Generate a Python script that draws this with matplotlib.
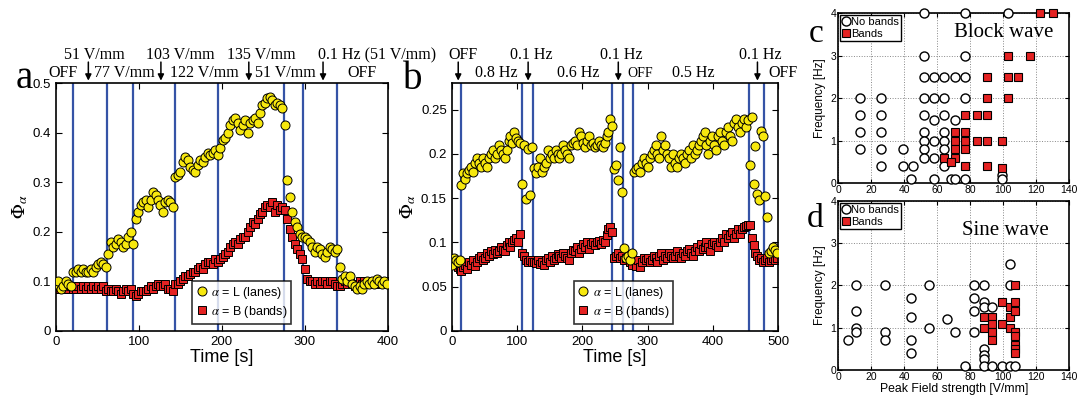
import numpy as np
import matplotlib.pyplot as plt
from matplotlib.ticker import FuncFormatter

plt.rcParams['font.family'] = ['Liberation Sans', 'DejaVu Sans']
plt.rcParams['mathtext.fontset'] = 'stix'

# ---- panel a: field strength steps, one sample every 3 s ----
lanes_a = [0.095, 0.10, 0.085, 0.09, 0.10, 0.095, 0.09,
           0.12, 0.12, 0.125, 0.12, 0.125, 0.12, 0.12, 0.125, 0.12, 0.13, 0.135, 0.14, 0.135, 0.13,
           0.155, 0.18, 0.17, 0.175, 0.185, 0.18, 0.17, 0.175, 0.19, 0.20, 0.175,
           0.225, 0.24, 0.255, 0.26, 0.265, 0.25, 0.265, 0.28, 0.275, 0.265, 0.255, 0.24, 0.26, 0.265, 0.26, 0.25,
           0.31, 0.315, 0.32, 0.34, 0.35, 0.345, 0.33, 0.325, 0.32, 0.335, 0.345, 0.34, 0.35, 0.36, 0.355, 0.36, 0.365, 0.355,
           0.37, 0.385, 0.39, 0.40, 0.415, 0.425, 0.43, 0.42, 0.405, 0.415, 0.425, 0.40, 0.42, 0.425, 0.43, 0.42,
           0.44, 0.455, 0.46, 0.47, 0.472, 0.465, 0.455, 0.46, 0.455, 0.45,
           0.415, 0.305, 0.27, 0.24, 0.22, 0.21, 0.195, 0.19,
           0.19, 0.185, 0.18, 0.17, 0.16, 0.17, 0.165, 0.155, 0.15, 0.16, 0.17, 0.165, 0.16, 0.165,
           0.13, 0.105, 0.11, 0.10, 0.11, 0.095, 0.09, 0.085, 0.09, 0.085, 0.095, 0.10, 0.095, 0.10, 0.095,
           0.105, 0.10, 0.095, 0.10, 0.095]
bands_a = [0.085, 0.09, 0.09, 0.085, 0.09, 0.085, 0.09,
           0.085, 0.085, 0.09, 0.085, 0.09, 0.085, 0.09, 0.085, 0.09, 0.085, 0.09, 0.085, 0.09, 0.08,
           0.085, 0.08, 0.08, 0.085, 0.08, 0.075, 0.08, 0.085, 0.08, 0.085, 0.075,
           0.07, 0.075, 0.08, 0.08, 0.08, 0.085, 0.09, 0.085, 0.09, 0.095, 0.09, 0.09, 0.095, 0.085, 0.085, 0.08,
           0.095, 0.095, 0.10, 0.105, 0.11, 0.11, 0.115, 0.12, 0.12, 0.125, 0.13, 0.125, 0.135, 0.14, 0.14, 0.135, 0.145, 0.14,
           0.145, 0.15, 0.155, 0.16, 0.17, 0.175, 0.18, 0.175, 0.185, 0.19, 0.19, 0.20, 0.21, 0.22, 0.215, 0.225,
           0.235, 0.24, 0.25, 0.255, 0.25, 0.26, 0.24, 0.255, 0.245, 0.25,
           0.245, 0.225, 0.205, 0.19, 0.175, 0.165, 0.155, 0.145,
           0.125, 0.105, 0.10, 0.10, 0.095, 0.10, 0.095, 0.10, 0.10, 0.095, 0.10, 0.10, 0.095, 0.09,
           0.09, 0.095, 0.10, 0.095, 0.10, 0.095, 0.09, 0.095, 0.10, 0.095, 0.10, 0.095, 0.10, 0.095, 0.10,
           0.095, 0.10, 0.095, 0.095, 0.10]
switch_a = [20, 61, 93, 143, 195, 275, 298, 339]
upper_a = [(45.8, '51 V/mm'), (149.4, '103 V/mm'), (248, '135 V/mm'), (386.7, '0.1 Hz (51 V/mm)')]
lower_a = [(8.4, 'OFF'), (82, '77 V/mm'), (179.5, '122 V/mm'), (277, '51 V/mm'), (368.7, 'OFF')]
arrows_a = [39, 126.5, 232.5, 322]

# ---- panel b: frequency steps, one sample every 3 s ----
lanes_b = [0.075, 0.083, 0.08, 0.078, 0.08,
           0.165, 0.178, 0.172, 0.178, 0.182, 0.185, 0.18, 0.19, 0.195, 0.19, 0.185, 0.195, 0.19, 0.185, 0.195,
           0.2, 0.205, 0.195, 0.2, 0.21, 0.205, 0.2, 0.195, 0.205, 0.215, 0.22, 0.212, 0.225, 0.218, 0.215, 0.212,
           0.166, 0.21, 0.149, 0.206, 0.154, 0.208,
           0.184, 0.178, 0.185, 0.195, 0.18, 0.185, 0.19, 0.205, 0.195, 0.2, 0.195, 0.205, 0.2, 0.195, 0.2,
           0.21, 0.205, 0.2, 0.195, 0.21, 0.212, 0.215, 0.21, 0.225, 0.22, 0.212, 0.208, 0.215, 0.22, 0.21,
           0.212, 0.208, 0.21, 0.215, 0.21, 0.208, 0.212, 0.22, 0.225, 0.24,
           0.232, 0.183, 0.188, 0.171, 0.208, 0.157, 0.094, 0.082, 0.085, 0.08, 0.088,
           0.18, 0.183, 0.185, 0.18, 0.19, 0.195, 0.19, 0.185, 0.195, 0.2, 0.205, 0.21, 0.2, 0.195, 0.22,
           0.205, 0.21, 0.2, 0.195, 0.185, 0.2, 0.19, 0.185, 0.195, 0.2, 0.195, 0.19, 0.2, 0.205, 0.195,
           0.21, 0.2, 0.205, 0.21, 0.215, 0.22, 0.225, 0.21, 0.2, 0.215, 0.22, 0.21, 0.205, 0.22, 0.225,
           0.215, 0.21, 0.225, 0.23, 0.22, 0.215, 0.235, 0.24, 0.23, 0.225, 0.235, 0.24, 0.23, 0.238,
           0.187, 0.242, 0.166, 0.209, 0.155, 0.148, 0.226, 0.22, 0.153, 0.129, 0.088, 0.09, 0.095, 0.092, 0.088]
bands_b = [0.078, 0.08, 0.075, 0.072, 0.07,
           0.068, 0.072, 0.075, 0.07, 0.078, 0.075, 0.08, 0.073, 0.078, 0.082, 0.085, 0.08, 0.083, 0.088, 0.085,
           0.09, 0.087, 0.092, 0.088, 0.09, 0.095, 0.092, 0.09, 0.097, 0.1, 0.095, 0.1, 0.103, 0.105, 0.1, 0.11,
           0.088, 0.085, 0.08, 0.078, 0.08, 0.078,
           0.078, 0.077, 0.08, 0.076, 0.078, 0.075, 0.08, 0.082, 0.078, 0.085, 0.08, 0.083, 0.087, 0.085, 0.082,
           0.088, 0.085, 0.083, 0.08, 0.088, 0.092, 0.09, 0.095, 0.088, 0.093, 0.098, 0.095, 0.1, 0.093, 0.098,
           0.1, 0.097, 0.1, 0.102, 0.098, 0.103, 0.1, 0.108, 0.115, 0.117,
           0.112, 0.083, 0.085, 0.088, 0.082, 0.085, 0.08, 0.083, 0.085, 0.078, 0.075,
           0.08, 0.073, 0.08, 0.072, 0.078, 0.082, 0.08, 0.083, 0.078, 0.08, 0.085, 0.082, 0.078, 0.085, 0.088,
           0.08, 0.085, 0.082, 0.088, 0.085, 0.082, 0.085, 0.09, 0.085, 0.082, 0.088, 0.085, 0.09, 0.093, 0.088,
           0.085, 0.09, 0.095, 0.09, 0.098, 0.093, 0.095, 0.1, 0.095, 0.09, 0.098, 0.1, 0.097, 0.095, 0.1,
           0.105, 0.1, 0.11, 0.105, 0.108, 0.112, 0.105, 0.11, 0.115, 0.11, 0.115, 0.117, 0.119, 0.12,
           0.12, 0.105, 0.097, 0.088, 0.085, 0.08, 0.082, 0.078, 0.08, 0.083, 0.078, 0.08, 0.082, 0.08, 0.082]
switch_b = [15, 107, 125, 246, 262, 277, 455, 478]
upper_b = [(17.3, 'OFF'), (122.5, '0.1 Hz'), (259, '0.1 Hz'), (472, '0.1 Hz')]
lower_b = [(68.3, '0.8 Hz'), (193.8, '0.6 Hz'), (370, '0.5 Hz'), (506.7, 'OFF')]
small_b = [(288, 'OFF')]
arrows_b = [10, 117, 255, 468]

# ---- panel c: block wave phase diagram ----
c_none_x = [52, 77, 103, 52, 77, 52, 58, 64, 71, 77, 13, 26, 52, 58, 64, 77,
            13, 26, 52, 64, 58, 71, 13, 26, 52, 64, 52, 58, 64, 13, 26, 39, 52, 64,
            52, 58, 26, 39, 45, 64, 44, 58, 68, 71, 77, 99, 99]
c_none_y = [4, 4, 4, 3, 3, 2.5, 2.5, 2.5, 2.5, 2.5, 2, 2, 2, 2, 2, 2,
            1.6, 1.6, 1.6, 1.6, 1.5, 1.5, 1.2, 1.2, 1.2, 1.2, 1, 1, 1, 0.8, 0.8, 0.8, 0.8, 0.8,
            0.6, 0.6, 0.4, 0.4, 0.4, 0.4, 0.1, 0.1, 0.1, 0.1, 0.1, 0.2, 0.1]
c_band_x = [122, 130, 103, 116, 90, 103, 109, 90, 103, 77, 84, 90, 71, 77,
            71, 77, 84, 90, 99, 71, 77, 64, 71, 68, 77, 90, 99]
c_band_y = [4, 4, 3, 3, 2.5, 2.5, 2.5, 2, 2, 1.6, 1.6, 1.6, 1.2, 1.2,
            1, 1, 1, 1, 1, 0.8, 0.8, 0.6, 0.6, 0.5, 0.4, 0.4, 0.35]

# ---- panel d: sine wave phase diagram ----
d_none_x = [6, 11, 11, 11, 11, 28, 28, 28, 44, 44, 44, 44, 55, 55, 66, 71, 77,
            82, 82, 82, 82, 88, 88, 88, 88, 88, 88, 88, 93, 93, 99, 104, 104, 104, 107]
d_none_y = [0.7, 2, 1.4, 1, 0.9, 2, 0.9, 0.7, 1.7, 1.25, 0.7, 0.4, 2, 1, 1.2, 0.9, 0.1,
            2, 1.7, 1.4, 0.9, 2, 1.6, 1.5, 0.5, 0.35, 0.25, 0.1, 1.5, 0.1, 0.1, 2.5, 2, 0.1, 0.1]
d_band_x = [88, 88, 93, 93, 93, 93, 99, 99, 104, 104, 104, 107, 107, 107, 107, 107, 107, 107, 107]
d_band_y = [1.25, 1.0, 1.25, 1.1, 0.9, 0.7, 1.6, 1.1, 1.5, 1.25, 1.0, 2, 1.6, 1.4, 0.9, 0.8, 0.6, 0.5, 0.4]

yellow = '#f7e80e'
red = '#e42222'
blue = '#3553a6'
serif = ['Liberation Serif', 'DejaVu Serif']

fig = plt.figure(figsize=(10.77, 4.03), dpi=100)
ax_a = fig.add_axes([0.052, 0.1787, 0.308, 0.615])
ax_b = fig.add_axes([0.4194, 0.1787, 0.3033, 0.615])
ax_c = fig.add_axes([0.7784, 0.545, 0.2145, 0.4218])
ax_d = fig.add_axes([0.7784, 0.0819, 0.2145, 0.4194])

gfmt = FuncFormatter(lambda v, p: f'{v:g}')


def time_panel(ax, lanes, bands, switches, xmax, ymax, yticks, legx):
    t_l = np.arange(len(lanes)) * 3
    t_b = np.arange(len(bands)) * 3
    for s in switches:
        ax.axvline(s, color=blue, lw=1.6, zorder=1)
    ax.plot(t_b, bands, ls='none', marker='s', ms=6, mfc=red, mec='k', mew=0.7,
            zorder=2, label=r'$\alpha$ = B (bands)')
    ax.plot(t_l, lanes, ls='none', marker='o', ms=6.5, mfc=yellow, mec='k', mew=0.7,
            zorder=3, label=r'$\alpha$ = L (lanes)')
    ax.set_xlim(0, xmax)
    ax.set_ylim(0, ymax)
    ax.set_xticks(np.arange(0, xmax + 1, 100))
    ax.set_yticks(yticks)
    ax.yaxis.set_major_formatter(gfmt)
    ax.tick_params(direction='in', top=True, right=True, labelsize=9.5, length=4)
    for sp in ax.spines.values():
        sp.set_linewidth(1.2)
    ax.set_xlabel('Time [s]', fontsize=13, labelpad=1)
    ax.set_ylabel(r'$\Phi_{\alpha}$', fontsize=14, labelpad=2)
    h, l = ax.get_legend_handles_labels()
    leg = ax.legend(h[::-1], l[::-1], loc='lower center', bbox_to_anchor=(legx, 0.03),
                    fontsize=9, frameon=True, fancybox=False, edgecolor='k',
                    handlelength=0.9, handletextpad=0.3, borderpad=0.3,
                    labelspacing=0.25, borderaxespad=0)
    leg.get_frame().set_linewidth(1.2)


def annotate_top(ax, upper, lower, arrows, small=()):
    tr = ax.get_xaxis_transform()
    for x, s in upper:
        ax.text(x, 1.096, s, transform=tr, ha='center', va='baseline',
                family=serif, fontsize=11.5, clip_on=False)
    for x, s in lower:
        ax.text(x, 1.023, s, transform=tr, ha='center', va='baseline',
                family=serif, fontsize=11.5, clip_on=False)
    for x, s in small:
        ax.text(x, 1.023, s, transform=tr, ha='center', va='baseline',
                family=serif, fontsize=10, clip_on=False)
    for x in arrows:
        ax.annotate('', xy=(x, 1.01), xytext=(x, 1.085), xycoords=tr, textcoords=tr,
                    arrowprops=dict(arrowstyle='-|>', color='k', lw=1.1,
                                    mutation_scale=9, shrinkA=0, shrinkB=0),
                    annotation_clip=False)


time_panel(ax_a, lanes_a, bands_a, switch_a, 400, 0.5, np.arange(0, 0.51, 0.1), 0.56)
annotate_top(ax_a, upper_a, lower_a, arrows_a)
time_panel(ax_b, lanes_b, bands_b, switch_b, 500, 0.28, np.arange(0, 0.26, 0.05), 0.526)
annotate_top(ax_b, upper_b, lower_b, arrows_b, small_b)


def phase_panel(ax, nx, ny, bx, by, title, tx, ty):
    ax.grid(True, ls=':', color='#888888', lw=0.7)
    ax.set_axisbelow(True)
    ax.plot(nx, ny, ls='none', marker='o', ms=6.5, mfc='white', mec='k', mew=1.0,
            clip_on=False, zorder=3, label='No bands')
    ax.plot(bx, by, ls='none', marker='s', ms=5.5, mfc=red, mec='k', mew=0.8,
            clip_on=False, zorder=4, label='Bands')
    ax.set_xlim(0, 140)
    ax.set_ylim(0, 4)
    ax.set_xticks(np.arange(0, 141, 20))
    ax.set_yticks([0, 1, 2, 3, 4])
    ax.tick_params(direction='in', top=True, right=True, labelsize=7.5, length=3, pad=1.5)
    for sp in ax.spines.values():
        sp.set_linewidth(1.2)
    ax.set_ylabel('Frequency [Hz]', fontsize=8.5, labelpad=3)
    leg = ax.legend(loc='upper left', fontsize=8, frameon=True, fancybox=False,
                    edgecolor='k', handlelength=0.6, handletextpad=0.2, borderpad=0.2,
                    labelspacing=0.15, borderaxespad=0.15)
    leg.get_frame().set_linewidth(1.0)
    leg.get_frame().set_alpha(1)
    ax.text(tx, ty, title, ha='center', va='center', family=serif, fontsize=15)


phase_panel(ax_c, c_none_x, c_none_y, c_band_x, c_band_y, 'Block wave', 100.4, 3.55)
phase_panel(ax_d, d_none_x, d_none_y, d_band_x, d_band_y, 'Sine wave', 101.4, 3.31)
ax_d.set_xlabel('Peak Field strength [V/mm]', fontsize=8.8, labelpad=1)

fig.text(24 / 1077, 1 - 88 / 403, 'a', family=serif, fontsize=28, ha='center', va='baseline')
fig.text(413 / 1077, 1 - 89 / 403, 'b', family=serif, fontsize=28, ha='center', va='baseline')
fig.text(816 / 1077, 1 - 42 / 403, 'c', family=serif, fontsize=24, ha='center', va='baseline')
fig.text(815 / 1077, 1 - 227 / 403, 'd', family=serif, fontsize=24, ha='center', va='baseline')

fig.savefig('out.png', dpi=100)
